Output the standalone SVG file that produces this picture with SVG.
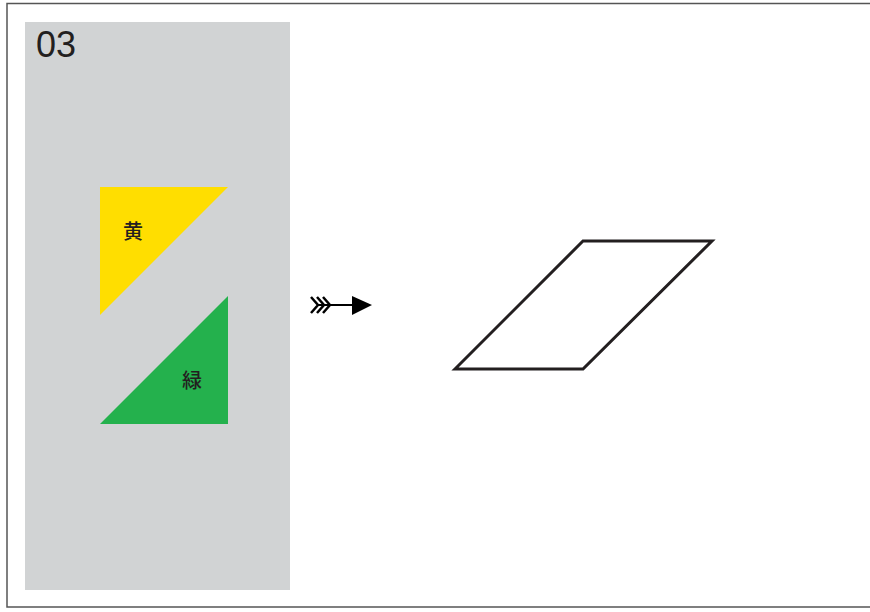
<svg xmlns="http://www.w3.org/2000/svg" width="870" height="612" viewBox="0 0 870 612">
<style>
.lbl{font-family:"Noto Sans CJK JP","Noto Sans CJK SC",sans-serif;font-size:20px;font-weight:500;fill:#231f20;text-anchor:middle;dominant-baseline:central}
.num{font-family:"Liberation Sans",Arial,sans-serif;font-size:36px;fill:#231f20}
</style>
<rect x="0" y="0" width="870" height="612" fill="#ffffff"/>
<rect id="frame" x="7" y="3.5" width="880" height="603.5" fill="none" stroke="#555" stroke-width="1.5"/>
<g id="panel">
<rect x="25" y="22" width="265" height="568" fill="#d1d3d4"/>
<text class="num" x="36" y="57">03</text>
</g>
<g id="yellow">
<polygon points="100,187 228,187 100,315" fill="#ffde00"/>
<text class="lbl" x="133" y="230">黄</text>
</g>
<g id="green">
<polygon points="228,296 228,424 100,424" fill="#24b14d"/>
<text class="lbl" x="192" y="379">緑</text>
</g>
<g id="connectors">
<g fill="none" stroke="#000" stroke-width="2.5">
<line x1="318" y1="305" x2="354" y2="305" stroke-width="2"/>
<polyline points="311,297 318,305 311,313"/>
<polyline points="317,297 324,305 317,313"/>
<polyline points="323,297 330,305 323,313"/>
</g>
<polygon points="352,296 372,305 352,315" fill="#000"/>
</g>
<g id="shape">
<polygon points="455,369 583,241 712,241 583,369" fill="#fff" stroke="#231f20" stroke-width="3"/>
</g>
</svg>
